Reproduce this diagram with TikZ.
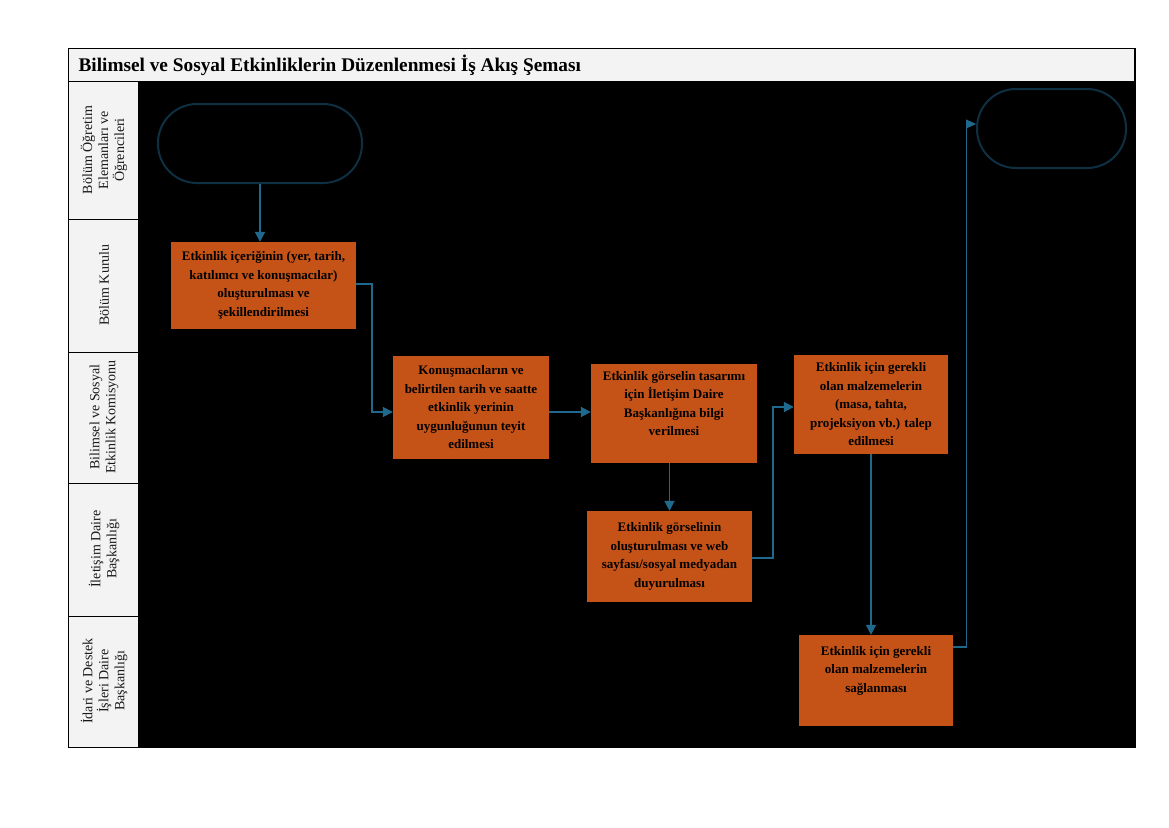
\documentclass[tikz,border=0pt]{standalone}
\usepackage{fontspec}
\setmainfont{Liberation Serif}
\usetikzlibrary{arrows.meta}
\definecolor{boxfill}{RGB}{197,82,22}
\definecolor{conn}{RGB}{31,105,140}
\definecolor{termline}{RGB}{14,48,66}
\definecolor{lanefill}{RGB}{243,243,243}
\tikzset{
  procbox/.style={draw=none, fill=boxfill, inner sep=2pt, align=center,
    font=\fontsize{13}{18.5}\selectfont\bfseries, text=black},
  termbox/.style={draw=termline, line width=2pt, fill=black, rounded corners=39pt},
  flow/.style={draw=conn, line width=1.8pt, -{Triangle[length=10pt,width=10pt]}},
  thinflow/.style={draw=conn, line width=1.1pt, -{Triangle[length=10pt,width=9pt]}},
  lanelabel/.style={rotate=90, align=center, font=\fontsize{14}{16}\selectfont, text=black!90},
}
\begin{document}
\begin{tikzpicture}[x=1pt,y=-1pt]
\useasboundingbox (0,0) rectangle (1169,827);
\fill[white] (0,0) rectangle (1169,827);
% black canvas
\fill[black] (138,81) rectangle (1135,747);
% title bar
\filldraw[fill=lanefill, draw=black, line width=1pt] (68,48) rectangle (1134,81);
\node[anchor=west, font=\fontsize{19.3}{22}\selectfont\bfseries] (title) at (75,65.5) {Bilimsel ve Sosyal Etkinliklerin Düzenlenmesi İş Akış Şeması};
% lane column
\filldraw[fill=lanefill, draw=black, line width=1pt] (68,81) rectangle (138,747);
\foreach \yy in {219,352,483,616} \draw[black, line width=1pt] (68,\yy) -- (138,\yy);
\draw[black, line width=1pt] (68,48) rectangle (1135,747);
\node[lanelabel] (l1) at (104,150) {Bölüm Öğretim\\Elemanları ve\\Öğrencileri};
\node[lanelabel] (l2) at (104,285) {Bölüm Kurulu};
\node[lanelabel] (l3) at (104,417) {Bilimsel ve Sosyal\\Etkinlik Komisyonu};
\node[lanelabel] (l4) at (104,549) {İletişim Daire\\Başkanlığı};
\node[lanelabel] (l5) at (104,681) {İdari ve Destek\\İşleri Daire\\Başkanlığı};
% terminators
\node[termbox, minimum width=204pt, minimum height=79pt] (start) at (260,143.5) {};
\node[termbox, minimum width=149pt, minimum height=79pt] (end) at (1051.5,128.5) {};
% process boxes
\node[procbox, minimum width=185pt, minimum height=87pt] (b1) at (263.5,285.5) {Etkinlik içeriğinin (yer, tarih,\\katılımcı ve konuşmacılar)\\oluşturulması ve\\şekillendirilmesi};
\node[procbox, minimum width=156pt, minimum height=103pt] (b2) at (471,407.5) {Konuşmacıların ve\\belirtilen tarih ve saatte\\etkinlik yerinin\\uygunluğunun teyit\\edilmesi};
\node[procbox, minimum width=166pt, minimum height=99pt] (b3) at (674,413.5) {Etkinlik görselin tasarımı\\için İletişim Daire\\Başkanlığına bilgi\\verilmesi\\[2pt]};
\node[procbox, minimum width=165pt, minimum height=91pt] (b4) at (669.5,556.5) {Etkinlik görselinin\\oluşturulması ve web\\sayfası/sosyal medyadan\\duyurulması};
\node[procbox, minimum width=154pt, minimum height=99pt] (b5) at (871,404.5) {Etkinlik için gerekli\\olan malzemelerin\\(masa, tahta,\\projeksiyon vb.) talep\\edilmesi};
\node[procbox, minimum width=154pt, minimum height=91pt] (b6) at (876,680.5) {Etkinlik için gerekli\\olan malzemelerin\\sağlanması\\[4pt]};
% connectors
\draw[flow] (start.south) -- (start.south |- b1.north);
\draw[flow] ([yshift=1.5pt]b1.east) -- ++(16,0) |- ([yshift=-4.5pt]b2.west);
\draw[flow] ([yshift=-4.5pt]b2.east) -- ([yshift=1.5pt]b3.west);
\draw[flow] (b3.south -| b4.north) -- (b4.north);
\draw[flow] ([yshift=-1.5pt]b4.east) -- ++(21,0) |- ([yshift=-2.5pt]b5.west);
\draw[flow] (b5.south) -- (b5.south |- b6.north);
\draw[thinflow] ([yshift=33.5pt]b6.east) -- ++(13,0) |- ([yshift=4.5pt]end.west);
\end{tikzpicture}
\end{document}
